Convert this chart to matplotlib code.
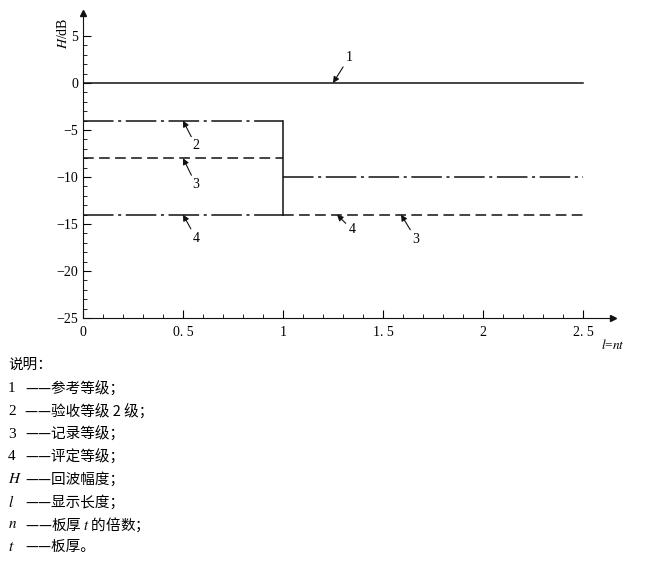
import matplotlib
matplotlib.use('Agg')
import matplotlib.pyplot as plt

# level lines (l = nt, H in dB)
ref_x = [0, 2.5]
ref_h = [0, 0]
acc_x1 = [0, 1]
acc_h1 = [-4, -4]
acc_x2 = [1, 2.5]
acc_h2 = [-10, -10]
rec_x1 = [0, 1]
rec_h1 = [-8, -8]
rec_x2 = [1, 2.5]
rec_h2 = [-14, -14]
eva_x = [0, 1]
eva_h = [-14, -14]
step_x = [1, 1]
step_h = [-4, -14]

xticks = [0, 0.5, 1, 1.5, 2, 2.5]
xtick_labels = ['0', '0. 5', '1', '1. 5', '2', '2. 5']
yticks = [5, 0, -5, -10, -15, -20, -25]
ytick_labels = ['5', '0', '\u22125', '\u221210', '\u221215', '\u221220', '\u221225']

# (label, text pos, arrow tip)
callouts = [
    ('1', (1.33, 2.7), (1.25, 0)),
    ('2', (0.565, -6.7), (0.5, -4)),
    ('3', (0.565, -10.8), (0.5, -8)),
    ('4', (0.565, -16.5), (0.5, -14)),
    ('4', (1.345, -15.6), (1.27, -14)),
    ('3', (1.665, -16.6), (1.59, -14)),
]

notes = [
    ('1', '——参考等级；'),
    ('2', '——验收等级 2 级；'),
    ('3', '——记录等级；'),
    ('4', '——评定等级；'),
    ('$H$', '——回波幅度；'),
    ('$l$', '——显示长度；'),
    ('$n$', '——板厚 $t$ 的倍数；'),
    ('$t$', '——板厚。'),
]

plt.rcParams['font.family'] = ['Liberation Serif', 'DejaVu Serif']
plt.rcParams['mathtext.fontset'] = 'stix'
cjk = ['Noto Sans CJK SC', 'DejaVu Sans']

fig = plt.figure(figsize=(6.62, 5.62), dpi=100)
ax = fig.add_axes([83 / 662, 244 / 562, 530 / 662, 305.5 / 562])

dashdot = (20, 3, 2, 3)
dashed = (7, 3.5)
k = '#111111'
ax.plot(ref_x, ref_h, color=k, lw=1.1)
ax.plot(acc_x1, acc_h1, color=k, lw=1.1, dashes=dashdot)
ax.plot(acc_x2, acc_h2, color=k, lw=1.1, dashes=dashdot)
ax.plot(rec_x1, rec_h1, color=k, lw=1.1, dashes=dashed)
ax.plot(rec_x2, rec_h2, color=k, lw=1.1, dashes=dashed)
ax.plot(eva_x, eva_h, color=k, lw=1.1, dashes=dashdot)
ax.plot(step_x, step_h, color=k, lw=1.1)

for lab, tp, tip in callouts:
    ax.annotate(lab, xy=tip, xytext=tp, fontsize=10, ha='center', va='center',
                arrowprops=dict(arrowstyle='-|>', color=k, lw=0.8,
                                mutation_scale=9, shrinkA=0, shrinkB=0))

ax.set_xlim(0, 2.65)
ax.set_ylim(-25, 7.5)
ax.spines['top'].set_visible(False)
ax.spines['right'].set_visible(False)
ax.spines['left'].set_color(k)
ax.spines['bottom'].set_color(k)
ax.plot(1, 0, '>', color=k, ms=5, transform=ax.transAxes, clip_on=False)
ax.plot(0, 1, '^', color=k, ms=5, transform=ax.transAxes, clip_on=False)

ax.set_xticks(xticks)
ax.set_xticklabels(xtick_labels, fontsize=10)
ax.set_yticks(yticks)
ax.set_yticklabels(ytick_labels, fontsize=10)
ax.set_xticks([i / 10 for i in range(26)], minor=True)
ax.set_yticks(list(range(-25, 6)), minor=True)
ax.tick_params(which='major', direction='in', length=6, width=0.8)
ax.tick_params(which='minor', direction='in', length=3, width=0.6)
ax.tick_params(axis='x', pad=6)

fig.text(63 / 662, 1 - 33 / 562, '$H$/dB', rotation=90, fontsize=10, ha='center', va='center')
fig.text(613 / 662, 1 - 345 / 562, '$l$=$nt$', fontsize=9.5, ha='center', va='center')

fig.text(8 / 662, 1 - 365 / 562, '说明：', family=cjk, fontsize=10.5, va='center')
for i, (key, desc) in enumerate(notes):
    y = 1 - (389 + i * 22.6) / 562
    fig.text(8 / 662, y, key, fontsize=11, va='center')
    fig.text(25 / 662, y, desc, family=cjk, fontsize=10.5, va='center')

fig.savefig('out.png', dpi=100)
